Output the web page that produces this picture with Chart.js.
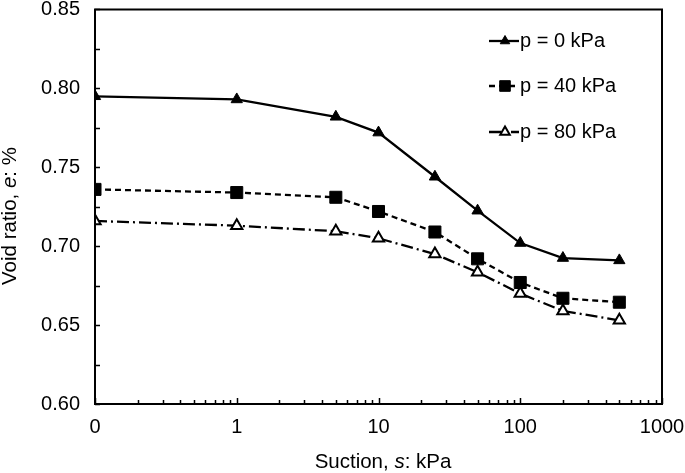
<!DOCTYPE html>
<html>
<head>
<meta charset="utf-8">
<script src="https://cdn.jsdelivr.net/npm/chart.js@4.4.1/dist/chart.umd.min.js"></script>
<style>
html,body{margin:0;padding:0;background:#fff;}
#wrap{width:685px;height:473px;position:relative;}
</style>
</head>
<body>
<div id="wrap"><canvas id="c" width="685" height="473"></canvas></div>
<script>
// ---- data ----
const suction = [0, 1, 5, 10, 25, 50, 100, 200, 500];           // kPa (0 plotted at 0.1 on log axis)
const e_p0  = [0.795, 0.793, 0.782, 0.772, 0.744, 0.7225, 0.702, 0.6925, 0.691];
const e_p40 = [0.736, 0.734, 0.731, 0.722, 0.709, 0.692, 0.677, 0.667, 0.6645];
const e_p80 = [0.716, 0.713, 0.7095, 0.705, 0.695, 0.6835, 0.670, 0.659, 0.653];
const seriesLabels = ['p = 0 kPa', 'p = 40 kPa', 'p = 80 kPa'];
const xTickValues = [0.1, 1, 10, 100, 1000];
const xTickLabels = ['0', '1', '10', '100', '1000'];
const yTickValues = [0.60, 0.65, 0.70, 0.75, 0.80, 0.85];
const ZERO_POS = 0.1;

const FONT = '"Liberation Sans", Arial, sans-serif';
const TICK_SIZE = 20;
const TITLE_SIZE = 20.5;

function pts(vals){ return suction.map((s,i)=>({x: s===0?ZERO_POS:s, y: vals[i]})); }

const dsStyle = [
  {borderDash: [], pointStyle: 'triangle', pointRadius: 6.5, bg: '#000'},
  {borderDash: [6, 4], pointStyle: 'rect', pointRadius: 8.5, bg: '#000'},
  {borderDash: [12, 4, 2, 4], pointStyle: 'triangle', pointRadius: 6.5, bg: '#fff'}
];
const allVals = [e_p0, e_p40, e_p80];

const datasets = allVals.map((v,i)=>({
  label: seriesLabels[i],
  data: pts(v),
  borderColor: '#000',
  borderWidth: 2.3,
  borderDash: dsStyle[i].borderDash,
  pointStyle: dsStyle[i].pointStyle,
  pointRadius: dsStyle[i].pointRadius,
  pointHoverRadius: dsStyle[i].pointRadius,
  pointBackgroundColor: dsStyle[i].bg,
  pointBorderColor: '#000',
  pointBorderWidth: i===2 ? 2 : 1,
  fill: false,
  tension: 0
}));

const decorPlugin = {
  id: 'decor',
  afterDraw(chart){
    const ctx = chart.ctx;
    const xs = chart.scales.x, ys = chart.scales.y;
    const ca = chart.chartArea;
    ctx.save();
    ctx.strokeStyle = '#000';
    ctx.lineWidth = 1.5;
    ctx.setLineDash([]);
    // x ticks (inside)
    ctx.beginPath();
    for (let d = 0.1; d < 1000; d *= 10) {
      for (let k = 1; k <= 10; k++) {
        const v = d * k;
        const px = Math.round(xs.getPixelForValue(v)) + 0.5;
        const len = (k === 1 || k === 10) ? 6 : 4;
        ctx.moveTo(px, ca.bottom);
        ctx.lineTo(px, ca.bottom - len);
      }
    }
    // y ticks (inside)
    for (let v = 0.60; v <= 0.8501; v += 0.025) {
      const py = Math.round(ys.getPixelForValue(v)) + 0.5;
      ctx.moveTo(ca.left, py);
      ctx.lineTo(ca.left + 5, py);
    }
    ctx.stroke();
    // frame
    ctx.lineWidth = 2;
    ctx.strokeRect(ca.left, ca.top, ca.right - ca.left, ca.bottom - ca.top);

    // axis titles with italic parts
    function drawSegs(segs, cx, cy){
      ctx.textBaseline = 'middle';
      ctx.textAlign = 'left';
      let w = 0;
      segs.forEach(s=>{ ctx.font = (s.i?'italic ':'') + TITLE_SIZE + 'px ' + FONT; s.w = ctx.measureText(s.t).width; w += s.w; });
      let x = cx - w/2;
      segs.forEach(s=>{ ctx.font = (s.i?'italic ':'') + TITLE_SIZE + 'px ' + FONT; ctx.fillText(s.t, x, cy); x += s.w; });
    }
    ctx.fillStyle = '#000';
    drawSegs([{t:'Suction, '},{t:'s',i:true},{t:': kPa'}], 383, 462);
    ctx.save();
    ctx.translate(10, 216);
    ctx.rotate(-Math.PI/2);
    drawSegs([{t:'Void ratio, '},{t:'e',i:true},{t:': %'}], 0, 0);
    ctx.restore();

    // legend
    const legY = [41, 86, 132];
    chart.data.datasets.forEach((ds, i)=>{
      const y = legY[i];
      ctx.strokeStyle = '#000';
      ctx.lineWidth = 2.3;
      ctx.setLineDash(ds.borderDash);
      ctx.beginPath();
      ctx.moveTo(489, y);
      ctx.lineTo(519, y);
      ctx.stroke();
      ctx.setLineDash([]);
      ctx.fillStyle = ds.pointBackgroundColor;
      ctx.strokeStyle = '#000';
      ctx.lineWidth = ds.pointBorderWidth;
      Chart.helpers.drawPoint(ctx, {pointStyle: ds.pointStyle, radius: ds.pointRadius - 1, borderWidth: ds.pointBorderWidth}, 505, y);
      ctx.fillStyle = '#000';
      ctx.font = TICK_SIZE + 'px ' + FONT;
      ctx.textAlign = 'left';
      ctx.textBaseline = 'middle';
      ctx.fillText(ds.label, 520, y);
    });
    ctx.restore();
  }
};

new Chart(document.getElementById('c'), {
  type: 'line',
  data: { datasets },
  options: {
    responsive: false,
    animation: false,
    devicePixelRatio: 1,
    layout: { padding: { top: 8, right: 23, left: 0, bottom: 0 } },
    plugins: { legend: { display: false }, tooltip: { enabled: false } },
    scales: {
      x: {
        type: 'logarithmic',
        min: 0.1, max: 1000,
        grid: { display: false, drawTicks: false },
        border: { display: false },
        afterBuildTicks(scale){ scale.ticks = xTickValues.map(v=>({value: v})); },
        afterFit(scale){ scale.height = 69; scale.paddingLeft = 0; scale.paddingRight = 0; },
        ticks: {
          color: '#000',
          font: { family: FONT, size: TICK_SIZE },
          padding: 11,
          maxRotation: 0,
          autoSkip: false,
          callback(v){ const i = xTickValues.findIndex(t=>Math.abs(t-v)/t < 1e-6); return i>=0 ? xTickLabels[i] : ''; }
        }
      },
      y: {
        min: 0.60, max: 0.85,
        grid: { display: false, drawTicks: false },
        border: { display: false },
        afterBuildTicks(scale){ scale.ticks = yTickValues.map(v=>({value: v})); },
        afterFit(scale){ scale.width = 95; scale.paddingTop = 0; scale.paddingBottom = 0; },
        ticks: {
          color: '#000',
          font: { family: FONT, size: TICK_SIZE },
          padding: 15,
          callback(v){ return Number(v).toFixed(2); }
        }
      }
    }
  },
  plugins: [decorPlugin]
});
</script>
</body>
</html>
